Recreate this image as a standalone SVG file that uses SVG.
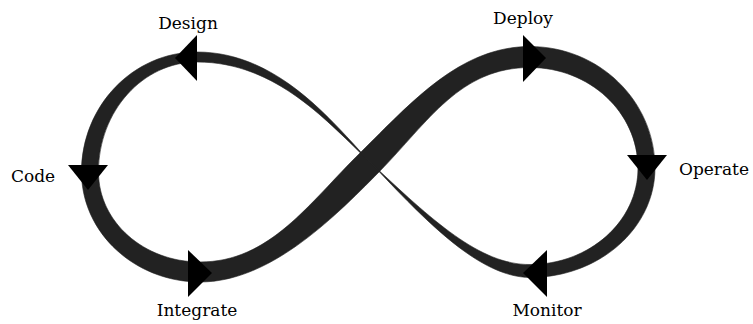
<svg xmlns="http://www.w3.org/2000/svg" width="753" height="324" viewBox="0 0 753 324">
<style>
.band{fill:#222;stroke:#222;stroke-width:0.6;stroke-linejoin:round}
.arr{fill:#000}
.lbl{font-family:"DejaVu Serif","Liberation Serif",serif;font-size:17px;fill:#000;text-anchor:middle}
</style>
<rect width="753" height="324" fill="#fff"/>
<g id="connectors">
<path class="band" d="M370,162 C331.4,120.6 277,52 197,52 C133,52 81.5,106 81.5,172 C81.5,233 135,282 200,282 C268,282 330,222 379.5,171.5 L360.5,152.5 C309,203 270,262 200,262 C144,262 98.5,222 98.5,172 C98.5,111 143,62 197,62 C277,62 328.6,123.4 370,162 Z"/>
<path class="band" d="M360.5,152.5 C411.5,102.5 460,46.5 530,46.5 C599,46.5 655,101 655,168 C655,228.4 599,277.5 530,277.5 C480,277 428.2,223.8 370,162 C431.8,220.2 480,265 530,264.5 C589.6,264.5 638,221.3 638,168 C638,112.5 589.6,67.5 530,67.5 C460,67.5 428.5,121.5 379.5,171.5 Z"/>
</g>
<g id="design"><path class="arr" d="M175,58 L197,35 L197,81 Z"/><text class="lbl" x="188" y="29">Design</text></g>
<g id="code"><path class="arr" d="M88,190 L68,165 L108,165 Z"/><text class="lbl" x="33" y="182">Code</text></g>
<g id="integrate"><path class="arr" d="M212,273 L188,250 L188,297 Z"/><text class="lbl" x="197" y="316">Integrate</text></g>
<g id="deploy"><path class="arr" d="M546,58 L523,35 L523,82 Z"/><text class="lbl" x="523" y="24">Deploy</text></g>
<g id="operate"><path class="arr" d="M647,180 L627,155 L667,155 Z"/><text class="lbl" x="714" y="175">Operate</text></g>
<g id="monitor"><path class="arr" d="M523,273 L547,250 L547,297 Z"/><text class="lbl" x="547" y="316">Monitor</text></g>
</svg>
